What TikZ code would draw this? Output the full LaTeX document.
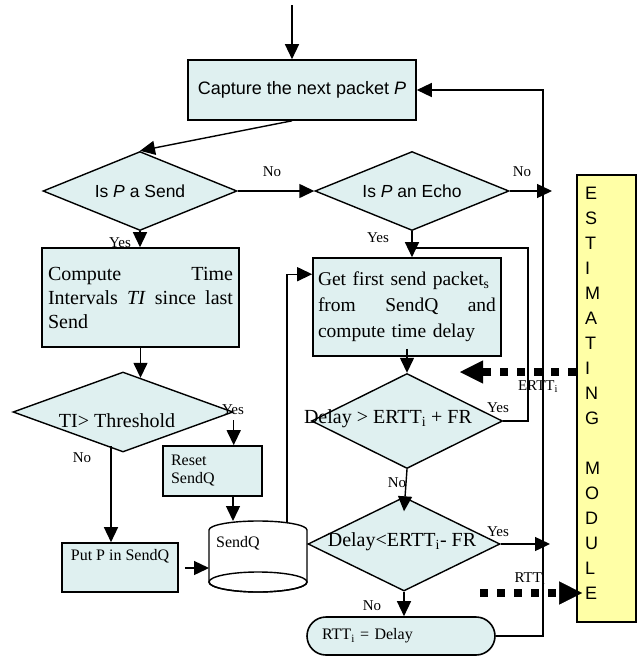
\documentclass[tikz,border=0pt]{standalone}
\usepackage{fontspec}
\setmainfont{Liberation Serif}
\newfontfamily\arialfont{Liberation Sans}
\usepackage{tikz}
\usetikzlibrary{shapes}
\usetikzlibrary{positioning}
\usetikzlibrary{arrows.meta}
\definecolor{boxcyan}{HTML}{DFF0F0}
\definecolor{modyellow}{HTML}{FFFFA6}

\begin{document}
\begin{tikzpicture}[x=1pt,y=-1pt,
  box/.style={draw,line width=1.6pt,fill=boxcyan,inner sep=0pt},
  dia/.style={draw,diamond,line width=1.4pt,fill=boxcyan,inner sep=0pt},
  arr/.style={line width=1.4pt,-{Triangle[length=15pt,width=14pt]}},
  dotarr/.style={line width=8pt,dash pattern=on 8pt off 9pt,-{Triangle[length=23pt,width=23pt,line width=0.5pt]}},
  sanstxt/.style={font=\arialfont\fontsize{17.5}{20}\selectfont,inner sep=0pt},
  bigtxt/.style={font=\fontsize{20}{24}\selectfont,inner sep=0pt},
  lab/.style={font=\fontsize{15}{17}\selectfont,inner sep=0pt},
  modletter/.style={font=\arialfont\fontsize{18}{20}\selectfont,inner sep=0pt,text height=13pt,text depth=0pt}]
\useasboundingbox (0,0) rectangle (642,656);

% start and capture
\coordinate (topin) at (292,5);
\node[box,minimum width=228pt,minimum height=60pt,font=\arialfont\fontsize{18}{20}\selectfont] (capture) at (302,90) {Capture the next packet \textit{P}};
\draw[arr] (topin) -- (topin |- capture.north);

% decisions on the packet
\node[dia,minimum width=194pt,minimum height=79pt] (send) at (140,191) {};
\node[sanstxt] (sendtxt) at (send) {Is \textit{P} a Send};
\node[dia,minimum width=194pt,minimum height=79pt] (echo) at (412,191) {};
\node[sanstxt] (echotxt) at (echo) {Is \textit{P} an Echo};
\draw[arr] ([xshift=-10pt]capture.south) -- (send.north);
\draw[arr] (send.east) -- (echo.west);
\node[lab] (sendno) at (272,172) {No};
\node[lab] (echono) at (522,172) {No};
\coordinate (echoout) at (552,191);
\draw[arr] (echo.east) -- (echoout);

% send branch
\node[box,minimum width=197pt,minimum height=99pt,text width=185pt,align=left,font=\fontsize{20}{24}\selectfont] (compute) at (140.5,297.5) {Compute\hfill Time\\Intervals\hfill\textit{TI}\hfill since\hfill last\\Send};
\draw[arr] (send.south) -- (send.south |- compute.north);
\node[lab] (sendyes) at (120,243) {Yes};
\node[dia,minimum width=220pt,minimum height=80pt] (thres) at (123,412) {};
\node[bigtxt] (threstxt) at (117,421) {TI> Threshold};
\draw[arr] (compute.south) -- ++(0,30);
\node[box,minimum width=99pt,minimum height=50pt,text width=83pt,align=left,font=\fontsize{16}{18}\selectfont] (reset) at (212.5,471) {Reset\\SendQ};
\draw[arr] ([yshift=-8pt]thres.east) -- (thres.east |- reset.north);
\node[lab] (thresyes) at (233,410) {Yes};
\node[lab] (thresno) at (82,458) {No};
\node[box,minimum width=116pt,minimum height=49pt,align=center,font=\fontsize{16}{19}\selectfont] (putp) at (120,567.5) {Put P in SendQ\\\strut};
\coordinate (tno) at (111,446);
\draw[arr] (tno) -- (tno |- putp.north);

% the send queue
\draw[line width=1.4pt,fill=white] (209,530) -- (209,582) arc[start angle=180,end angle=0,x radius=49,y radius=10] -- (307,530) arc[start angle=0,end angle=-180,x radius=49,y radius=9] -- cycle;
\draw[line width=1.4pt] (258,582) ellipse[x radius=49,y radius=10];
\node[font=\fontsize{16}{18}\selectfont,inner sep=0pt] (sqtxt) at (238,543) {SendQ};
\coordinate (cylin) at (233,521);
\coordinate (cylleft) at (209,568);
\coordinate (cylout) at (287,523);
\draw[arr] (reset.south -| cylin) -- (cylin);
\draw[arr] ([xshift=6pt]putp.east |- cylleft) -- (cylleft);

% echo branch
\node[box,minimum width=188pt,minimum height=98pt,text width=178pt,align=left,font=\fontsize{19.5}{26}\selectfont] (getpkt) at (407,307) {\mbox{Get first send packet\textsubscript{s}}\\from\hfill SendQ\hfill and\\compute time delay};
\draw[arr] (echo.south) -- (echo.south |- getpkt.north);
\node[lab] (echoyes) at (378,238) {Yes};
\draw[arr] (cylout) |- ([yshift=-17pt]getpkt.north west);
\node[dia,minimum width=191pt,minimum height=95pt] (dbig) at (407,421) {};
\node[bigtxt] (dbigtxt) at (388,419) {Delay > ERTT\textsubscript{i} + FR};
\draw[arr] ([yshift=8pt]getpkt.south) -- (dbig.north);
\coordinate (loopa) at (528,248);
\draw[line width=1.4pt] (dbig.east) -| (loopa) -- (loopa -| echo.south);
\node[lab] (dbigyes) at (498,408) {Yes};
\node[dia,minimum width=192pt,minimum height=94pt] (dsmall) at (404,544) {};
\node[bigtxt] (dsmalltxt) at (402,542) {Delay<ERTT\textsubscript{i}- FR};
\draw[arr] (dbig.south) -- ([yshift=-15pt]dsmall.north);
\node[lab] (dbigno) at (397,483) {No};
\coordinate (dsout) at (550,544);
\draw[arr] (dsmall.east) -- (dsout);
\node[lab] (dsyes) at (498,532) {Yes};
\node[box,rounded corners=19pt,minimum width=188pt,minimum height=38pt,text width=158pt,align=left,font=\fontsize{16}{19}\selectfont] (rtt) at (401,636) {RTT\textsubscript{i} = Delay};
\draw[arr] (dsmall.south) -- (dsmall.south |- rtt.north);
\node[lab] (dsno) at (372,606) {No};
\coordinate (loopb) at (543,90);
\draw[arr] (rtt.east) -| (loopb) -- (capture.east);

% estimating module
\node[draw,line width=1.6pt,fill=modyellow,minimum width=59pt,minimum height=447pt,inner sep=0pt] (estm) at (606.5,398.5) {};
\foreach \ch [count=\k from 0] in {E,S,T,I,M,A,T,I,N,G,{},M,O,D,U,L,E}
  \node[modletter,anchor=west] (let\k) at (585,{193+25*\k}) {\ch};
\coordinate (ertt) at (460,372);
\draw[dotarr] (estm.west |- ertt) -- (ertt);
\node[lab] (erttlab) at (538,387) {ERTT\textsubscript{i}};
\coordinate (rttst) at (480,593);
\draw[dotarr] (rttst) -- ([xshift=6pt]estm.west |- rttst);
\node[lab] (rttlab) at (530,579) {RTT\textsubscript{i}};
\end{tikzpicture}
\end{document}
